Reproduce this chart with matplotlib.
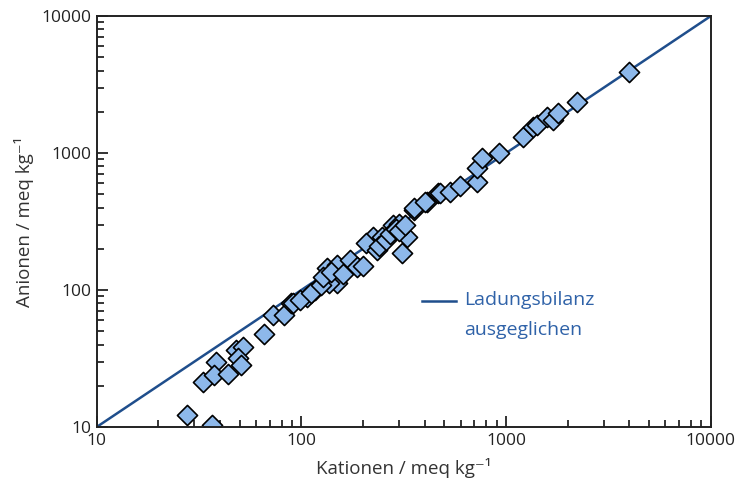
import matplotlib.pyplot as plt
from matplotlib.ticker import LogLocator, NullFormatter, FuncFormatter

plt.rcParams['font.family'] = ['Open Sans', 'DejaVu Sans']

# Kationen / Anionen (meq/kg)
kationen = [27.6, 36.5, 33, 38.1, 37.6, 43.6, 47.8, 52, 49, 51,
            65.5, 72.4, 82, 89.5, 90.6, 106, 116, 133, 150, 150,
            137, 172, 188, 223, 208, 233, 249, 279, 301, 330,
            312, 357, 409, 463, 357, 400, 474, 530, 593, 718,
            718, 760, 920, 1205, 1350, 1410, 1578, 1690, 1790, 2215,
            3970, 98, 112, 125, 128, 140, 160, 200, 240, 260,
            270, 290, 300, 320]
anionen = [12.2, 10.3, 21.3, 29.8, 24, 24.4, 36.5, 38.5, 32, 28.4,
           47.8, 65.8, 66, 80.5, 80, 89, 100, 145, 152, 112,
           112, 166, 147, 244, 220, 196, 244, 298, 306, 244,
           186, 384, 438, 510, 397, 438, 510, 520, 574, 614,
           778, 920, 1000, 1310, 1550, 1610, 1830, 1740, 1960, 2360,
           3900, 85, 95, 108, 125, 135, 130, 150, 210, 230,
           255, 280, 270, 300]

linie = [10, 10000]

fig, ax = plt.subplots(figsize=(7.38, 4.88), dpi=100)
fig.subplots_adjust(left=0.131, right=0.963, bottom=0.125, top=0.967)

ax.plot(linie, linie, color='#1f4e8c', lw=1.8, zorder=1)
ax.scatter(kationen, anionen, marker='D', s=105, facecolor='#8db8ea',
           edgecolor='black', linewidth=1.2, zorder=2)

ax.set_xscale('log')
ax.set_yscale('log')
ax.set_xlim(10, 10000)
ax.set_ylim(10, 10000)

fmt = FuncFormatter(lambda v, p: f'{v:.0f}')
for axis in (ax.xaxis, ax.yaxis):
    axis.set_major_locator(LogLocator(base=10))
    axis.set_minor_locator(LogLocator(base=10, subs=range(2, 10)))
    axis.set_major_formatter(fmt)
    axis.set_minor_formatter(NullFormatter())

ax.tick_params(which='major', direction='in', length=8, width=1.3,
               labelsize=12.5, colors='#222222', pad=4)
ax.tick_params(which='minor', direction='in', length=5, width=1.1)
ax.tick_params(top=False, right=False, which='both')
for s in ax.spines.values():
    s.set_linewidth(1.4)
    s.set_color('#222222')

ax.set_xlabel('Kationen / meq kg⁻¹', fontsize=13.5, color='#333333', labelpad=7)
ax.set_ylabel('Anionen / meq kg⁻¹', fontsize=13.5, color='#333333', labelpad=5)

ax.plot([0.53, 0.585], [0.307, 0.307], transform=ax.transAxes,
        color='#1f4e8c', lw=1.8)
ax.text(0.598, 0.309, 'Ladungsbilanz', transform=ax.transAxes,
        color='#2f62a8', fontsize=14, va='center', ha='left')
ax.text(0.598, 0.236, 'ausgeglichen', transform=ax.transAxes,
        color='#2f62a8', fontsize=14, va='center', ha='left')

fig.savefig('out.png')
